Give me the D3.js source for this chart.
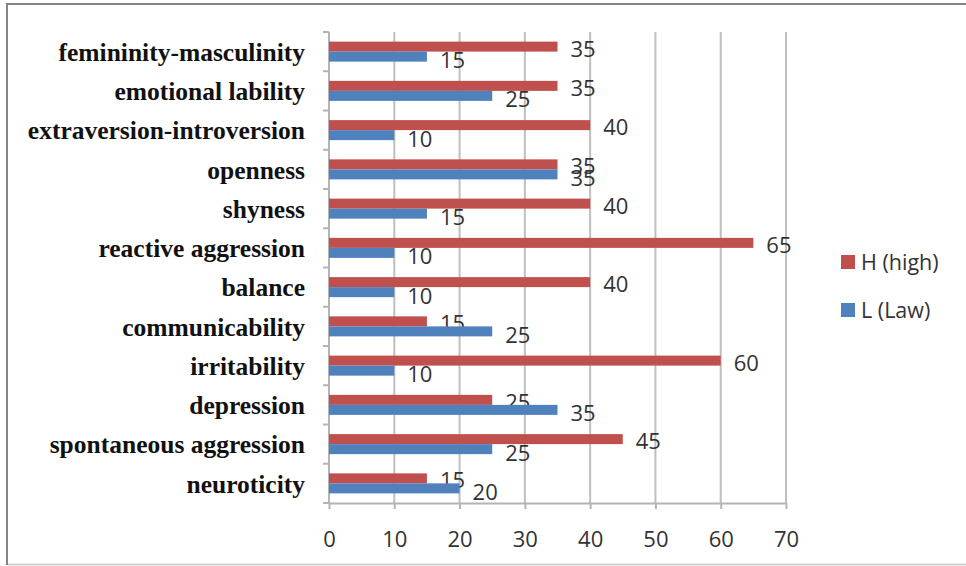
<!DOCTYPE html>
<html>
<head>
<meta charset="utf-8">
<script src="https://cdn.jsdelivr.net/npm/d3@7"></script>
<style>
  body { margin: 0; background: #fff; }
  svg { display: block; }
</style>
</head>
<body>
<svg id="chart" width="966" height="566"></svg>
<script>
// values, top row first
var categories = ["femininity-masculinity", "emotional lability", "extraversion-introversion",
  "openness", "shyness", "reactive aggression", "balance", "communicability",
  "irritability", "depression", "spontaneous aggression", "neuroticity"];
var highValues = [35, 35, 40, 35, 40, 65, 40, 15, 60, 25, 45, 15];
var lowValues = [15, 25, 10, 35, 15, 10, 10, 25, 10, 35, 25, 20];
var seriesNames = ["H (high)", "L (Law)"];
var xTicks = [0, 10, 20, 30, 40, 50, 60, 70];

var colors = ["#C0504D", "#4F81BD"];

var svg = d3.select("#chart"),
    margin = {top: 32, left: 329, right: 180, bottom: 63},
    width = 966 - margin.left - margin.right,
    height = 566 - margin.top - margin.bottom;

// outer frame: dark top and left edges, pale bottom, right edge cut off
svg.append("path")
    .attr("d", "M7,565 L7,4 L966,4")
    .attr("fill", "none")
    .attr("stroke", "#858585")
    .attr("stroke-width", 2);
svg.append("line")
    .attr("x1", 8).attr("x2", 966).attr("y1", 564.5).attr("y2", 564.5)
    .attr("stroke", "#cfcfcf")
    .attr("stroke-width", 2);

var x = d3.scaleLinear().domain([0, 70]).range([0, width]),
    y = d3.scaleBand().domain(categories).range([0, height]).paddingInner(0.49).paddingOuter(0.245),
    sub = d3.scaleBand().domain([0, 1]).range([0, y.bandwidth()]);

var g = svg.append("g")
    .attr("transform", "translate(" + margin.left + "," + margin.top + ")");

// vertical gridlines
g.append("g")
    .selectAll("line")
    .data(xTicks.slice(1))
    .enter().append("line")
    .attr("x1", function (d) { return x(d); })
    .attr("x2", function (d) { return x(d); })
    .attr("y1", 0)
    .attr("y2", height)
    .attr("stroke", "#bfbfbf")
    .attr("stroke-width", 2);

// bottom axis
var xAxis = g.append("g")
    .attr("transform", "translate(0," + height + ")")
    .call(d3.axisBottom(x).tickValues(xTicks).tickSize(6).tickSizeOuter(0));
xAxis.selectAll("path, line").attr("stroke", "#b4b4b4").attr("stroke-width", 2);
xAxis.selectAll("text")
    .attr("font-family", "'Open Sans', sans-serif")
    .attr("font-size", 22)
    .attr("fill", "#333")
    .attr("dy", "1.6em");

// left axis, ticks between categories
var step = y.step(),
    bounds = d3.range(categories.length + 1).map(function (i) { return i * step; });
g.append("line")
    .attr("x1", 0).attr("x2", 0).attr("y1", 0).attr("y2", height)
    .attr("stroke", "#b4b4b4").attr("stroke-width", 2);
g.append("g")
    .selectAll("line")
    .data(bounds)
    .enter().append("line")
    .attr("x1", -6).attr("x2", 0)
    .attr("y1", function (d) { return d; })
    .attr("y2", function (d) { return d; })
    .attr("stroke", "#b4b4b4").attr("stroke-width", 2);

// category names
g.append("g")
    .selectAll("text")
    .data(categories)
    .enter().append("text")
    .attr("x", -24)
    .attr("y", function (d) { return y(d) + y.bandwidth() / 2; })
    .attr("dy", "0.36em")
    .attr("text-anchor", "end")
    .attr("font-family", "'Liberation Serif', 'Times New Roman', serif")
    .attr("font-weight", "bold")
    .attr("font-size", 25.5)
    .attr("fill", "#111")
    .text(function (d) { return d; });

// bars, H on top then L
var series = [highValues, lowValues];
series.forEach(function (vals, s) {
  var rows = categories.map(function (c, i) { return {cat: c, v: vals[i]}; });
  var bar = g.append("g").selectAll("g")
      .data(rows)
      .enter().append("g");

  bar.append("rect")
      .attr("x", 0)
      .attr("y", function (d) { return y(d.cat) + sub(s); })
      .attr("width", function (d) { return x(d.v); })
      .attr("height", sub.bandwidth())
      .attr("fill", colors[s]);

  bar.append("text")
      .attr("x", function (d) { return x(d.v) + 13; })
      .attr("y", function (d) { return y(d.cat) + sub(s) + sub.bandwidth() / 2 + (s ? 3.5 : 2); })
      .attr("dy", "0.36em")
      .attr("font-family", "'Open Sans', sans-serif")
      .attr("font-size", 22)
      .attr("fill", "#333")
      .text(function (d) { return d.v; });
});

// legend
var legend = svg.append("g")
    .selectAll("g")
    .data(seriesNames)
    .enter().append("g")
    .attr("transform", function (d, i) { return "translate(841," + (262 + i * 48) + ")"; });
legend.append("rect")
    .attr("x", 0).attr("y", -7)
    .attr("width", 14).attr("height", 14)
    .attr("fill", function (d, i) { return colors[i]; });
legend.append("text")
    .attr("x", 20)
    .attr("dy", "0.35em")
    .attr("font-family", "'Open Sans', sans-serif")
    .attr("font-size", 21.5)
    .attr("fill", "#333")
    .text(function (d) { return d; });
</script>
</body>
</html>
